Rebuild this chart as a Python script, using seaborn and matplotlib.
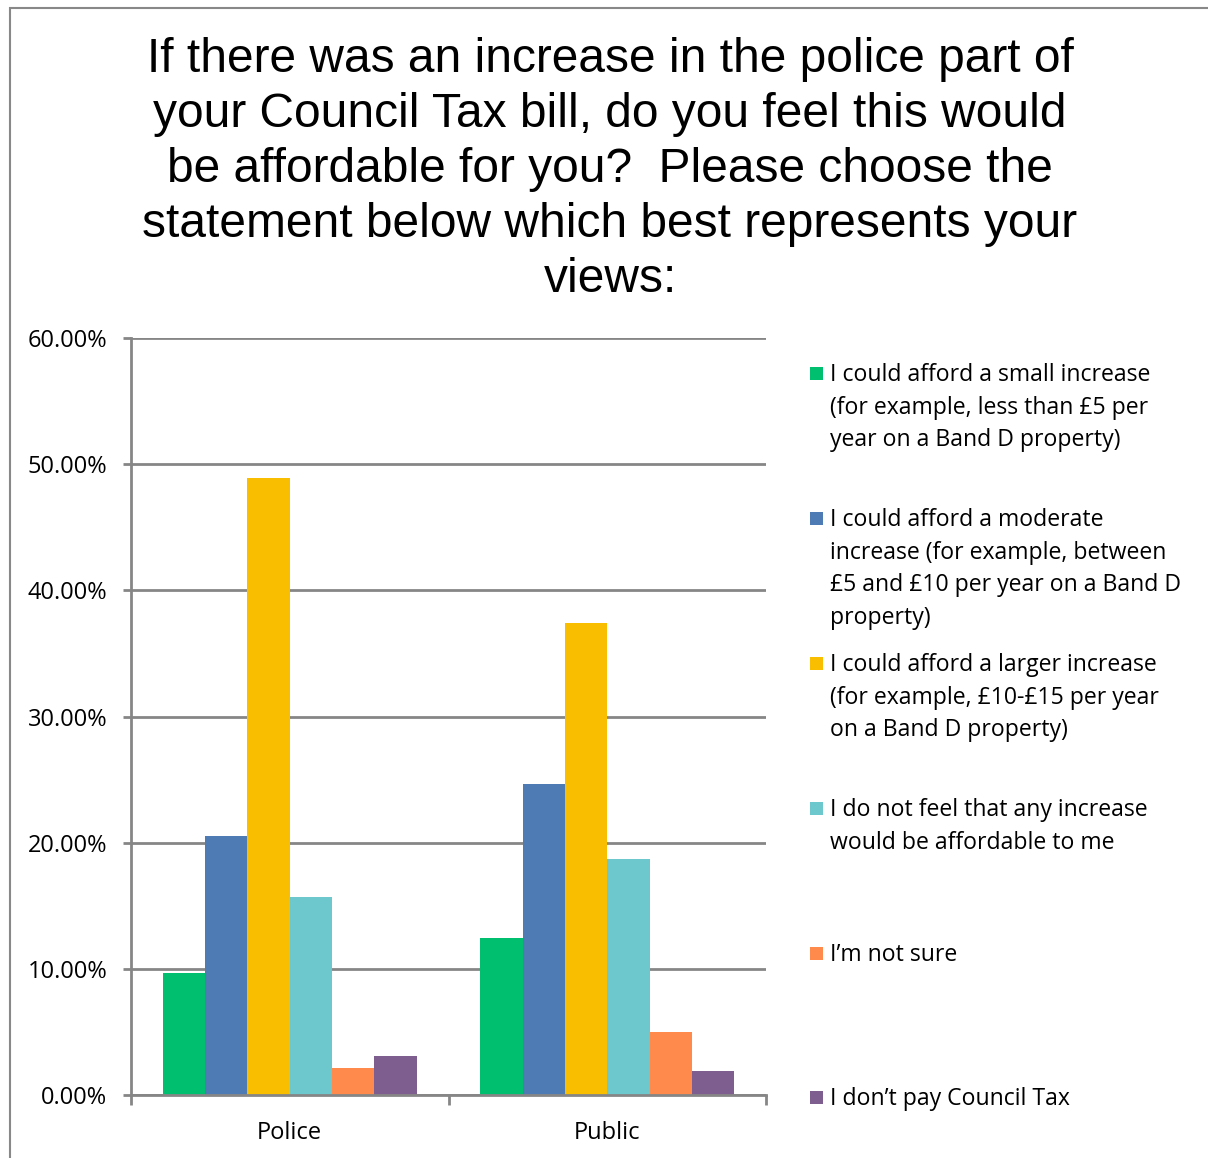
import numpy as np
import pandas as pd
import matplotlib
matplotlib.use("Agg")
import matplotlib.pyplot as plt
import seaborn as sns
from matplotlib.patches import Rectangle

# Data (percent)
groups = ["Police", "Public"]
responses = [
    "I could afford a small increase\n(for example, less than £5 per\nyear on a Band D property)",
    "I could afford a moderate\nincrease (for example, between\n£5 and £10 per year on a Band D\nproperty)",
    "I could afford a larger increase\n(for example, £10-£15 per year\non a Band D property)",
    "I do not feel that any increase\nwould be affordable to me",
    "I’m not sure",
    "I don’t pay Council Tax",
]
police = [9.67, 20.5, 48.9, 15.7, 2.15, 3.1]
public = [12.45, 24.65, 37.4, 18.7, 5.0, 1.9]
colors = ["#00BF6F", "#4F7BB4", "#F9BE00", "#6CC8CC", "#FF8A4C", "#7E5E8E"]
yticks = [0, 10, 20, 30, 40, 50, 60]

title = ("If there was an increase in the police part of\n"
         "your Council Tax bill, do you feel this would\n"
         "be affordable for you?  Please choose the\n"
         "statement below which best represents your\n"
         "views:")

df = pd.DataFrame({
    "Group": [g for g in groups for _ in responses],
    "Response": responses * len(groups),
    "Value": police + public,
})

sns.set_theme(style="white")
plt.rcParams["font.family"] = ["Open Sans", "DejaVu Sans"]
plt.rcParams["text.color"] = "black"
plt.rcParams["xtick.color"] = "black"
plt.rcParams["ytick.color"] = "black"

fig = plt.figure(figsize=(12.08, 11.58), dpi=100)
ax = fig.add_axes([131 / 1208, 1 - 1095 / 1158, (766 - 131) / 1208, (1095 - 338) / 1158])

sns.barplot(data=df, x="Group", y="Value", hue="Response", hue_order=responses,
            palette=colors, width=0.8, gap=0, saturation=1, linewidth=0,
            ax=ax, legend=False)

grid_col = "#868686"
ax.set_ylim(0, 60)
ax.set_xlim(-0.5, 1.5)
ax.set_yticks(yticks)
ax.set_yticklabels([f"{v:.2f}%" for v in yticks])
ax.yaxis.grid(True, color=grid_col, linewidth=2)
ax.set_axisbelow(True)
ax.set_xlabel("")
ax.set_ylabel("")
for side in ["top", "right"]:
    ax.spines[side].set_visible(False)
for side in ["left", "bottom"]:
    ax.spines[side].set_color(grid_col)
    ax.spines[side].set_linewidth(2)

ax.tick_params(axis="y", length=6, width=2, color=grid_col, labelsize=17, pad=11,
               left=True, labelcolor="black")
ax.tick_params(axis="x", which="major", length=0, labelsize=17, pad=19, labelcolor="black")
ax.set_xticks([-0.5, 0.5, 1.5], minor=True)
ax.tick_params(axis="x", which="minor", length=7, width=2, color=grid_col, bottom=True)

fig.suptitle(title, x=610 / 1208, y=1 - 37 / 1158, va="top", fontsize=34.5,
             family=["Liberation Sans", "DejaVu Sans"], linespacing=1.285, color="black")

# Legend drawn beside the plot, one evenly spaced entry per response
legend_y = [373, 518, 663, 808, 953, 1097]
for label, col, ypx in zip(responses, colors, legend_y):
    fig.patches.append(Rectangle((810 / 1208, 1 - (ypx + 7) / 1158), 13 / 1208, 13 / 1158,
                                 transform=fig.transFigure, facecolor=col,
                                 edgecolor="none"))
    fig.text(830 / 1208, 1 - (ypx - 10) / 1158, label, ha="left", va="top",
             fontsize=16.6, linespacing=1.48, color="black")

# outer chart border
fig.patches.append(Rectangle((10 / 1208, -0.05), 1.2, 1 - 8 / 1158 + 0.05,
                             transform=fig.transFigure, facecolor="none",
                             edgecolor="#888888", linewidth=1.5))

fig.savefig("out.png", dpi=100)
